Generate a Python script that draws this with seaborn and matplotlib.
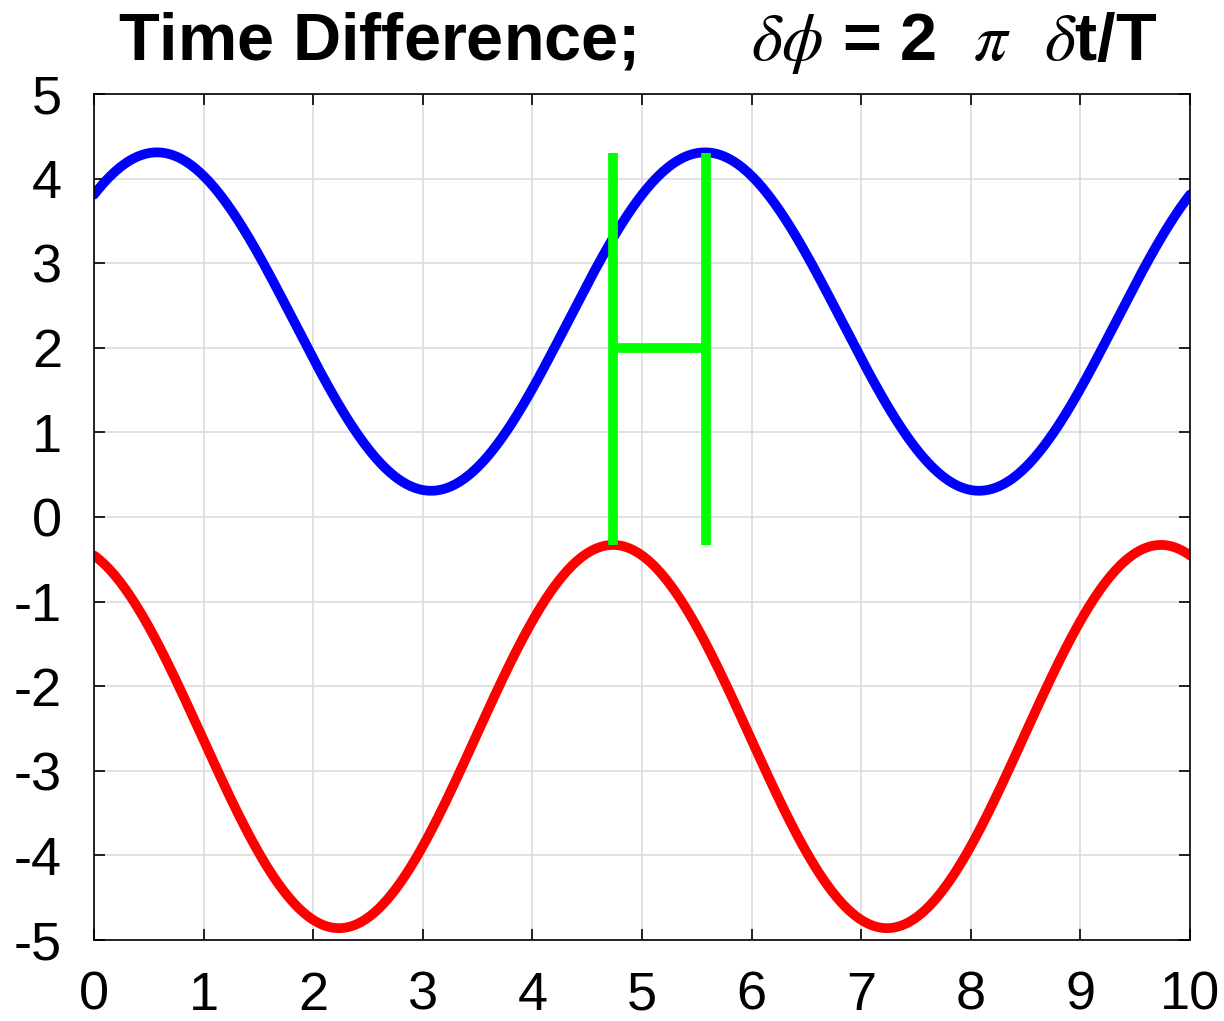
import numpy as np
import pandas as pd
import matplotlib
matplotlib.use("Agg")
import matplotlib.pyplot as plt
import seaborn as sns

# Curve parameters (sinusoids)
period = 5.0
blue_offset, blue_amp, blue_peak_t = 2.31, 2.0, 0.575
red_offset, red_amp, red_peak_t = -2.595, 2.265, 4.735

# Marker lines (time difference)
marker_x = [4.735, 5.58]
marker_ymin, marker_ymax = -0.33, 4.3
bridge_y = 2.0

xticks = list(range(0, 11))
yticks = list(range(-5, 6))
title = r"Time Difference;      $\delta\phi$ = 2  $\pi$  $\delta$t/T"

t = np.linspace(0, 10, 1001)
blue = blue_offset + blue_amp * np.cos(2 * np.pi * (t - blue_peak_t) / period)
red = red_offset + red_amp * np.cos(2 * np.pi * (t - red_peak_t) / period)
df = pd.DataFrame({"t": np.concatenate([t, t]),
                   "y": np.concatenate([blue, red]),
                   "s": ["blue"] * len(t) + ["red"] * len(t)})

sns.set_theme(style="white")
plt.rcParams["font.family"] = ["Liberation Sans", "DejaVu Sans"]
plt.rcParams["mathtext.fontset"] = "stix"
plt.rcParams["text.color"] = "black"
plt.rcParams["xtick.color"] = "black"
plt.rcParams["ytick.color"] = "black"
plt.rcParams["axes.labelcolor"] = "black"

fig = plt.figure(figsize=(12.24, 10.21), dpi=100)
ax = fig.add_axes([94 / 1224, 1 - 940 / 1021, (1190 - 94) / 1224, (940 - 94) / 1021])

sns.lineplot(data=df, x="t", y="y", hue="s", palette={"blue": "#0000ff", "red": "#ff0000"},
             linewidth=7, legend=False, ax=ax, sort=False)

green = "#00ff00"
for xv in marker_x:
    ax.plot([xv, xv], [marker_ymin, marker_ymax], color=green, lw=7, solid_capstyle="butt")
ax.plot(marker_x, [bridge_y, bridge_y], color=green, lw=7, solid_capstyle="butt")

ax.set_xlim(0, 10)
ax.set_ylim(-5, 5)
ax.set_xticks(xticks)
ax.set_yticks(yticks)
ax.set_xticklabels([str(v) for v in xticks])
ax.set_yticklabels([str(v) for v in yticks])
ax.set_xlabel("")
ax.set_ylabel("")
ax.grid(True, color="#dcdcdc", linewidth=1.2)
ax.set_axisbelow(True)
for sp in ax.spines.values():
    sp.set_color("black")
    sp.set_linewidth(1.2)
ax.tick_params(axis="both", direction="in", length=8, width=1.2, color="black",
               labelsize=39, labelcolor="black", top=True, right=True, bottom=True, left=True,
               labeltop=False, labelright=False)
ax.tick_params(axis="x", pad=22)
ax.tick_params(axis="y", pad=23)

fig.text(0.521, 0.958, title, ha="center", va="center", fontsize=48, fontweight="bold",
         color="black", family=["Liberation Sans Narrow", "Liberation Sans", "DejaVu Sans"])

fig.savefig("out.png", dpi=100)
